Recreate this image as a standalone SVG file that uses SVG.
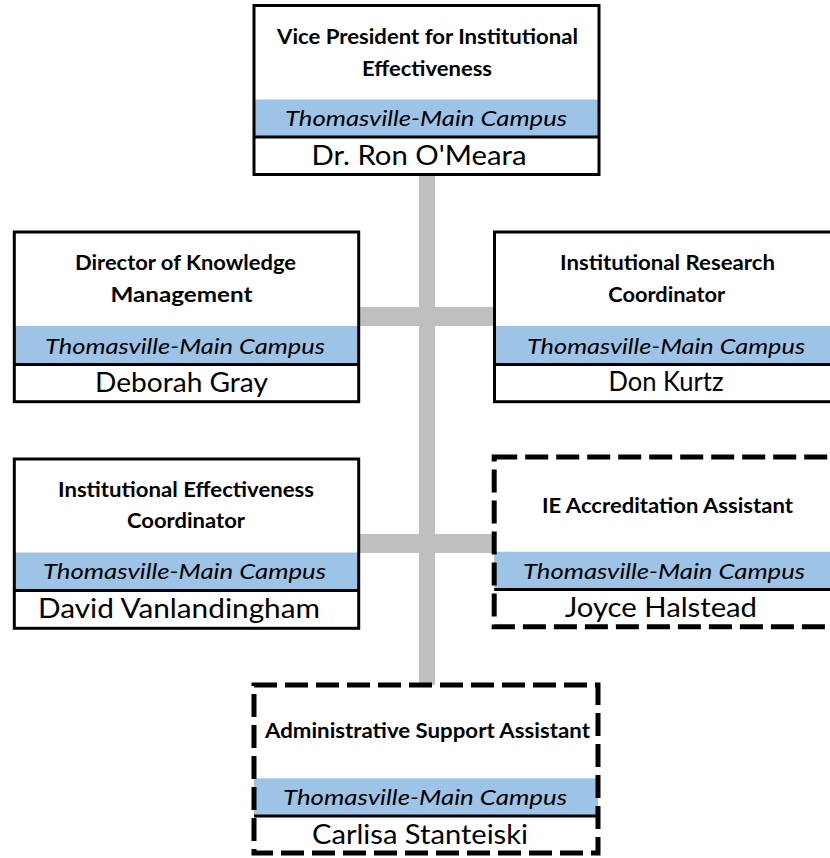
<svg xmlns="http://www.w3.org/2000/svg" width="830" height="858" viewBox="0 0 830 858">
<style>
.bg{fill:#ffffff}
.box{fill:none;stroke:#000;stroke-width:3}
.dash{fill:none;stroke:#000;stroke-width:5;stroke-dasharray:23 8}
.band{fill:#9DC3E6}
.sep{stroke:#000;stroke-width:3}
.conn{fill:#BFBFBF}
text{font-family:Lato,"Open Sans","Liberation Sans",sans-serif;text-anchor:middle;fill:#000}
.t{font-weight:bold;font-size:20px}
.c{font-style:italic;font-size:22px}
.n{font-size:26px}
</style>
<rect x="0" y="0" width="830" height="858" fill="#fff"/>
<g id="connectors">
<rect class="conn" x="419" y="175" width="16" height="510"/>
<rect class="conn" x="359" y="307" width="135" height="19"/>
<rect class="conn" x="359" y="534" width="135" height="19"/>
</g>
<g id="vp">
<rect class="bg" x="254" y="5.5" width="345" height="169"/>
<rect class="band" x="254" y="99.5" width="345" height="37"/>
<line class="sep" x1="254" y1="137" x2="599" y2="137"/>
<rect class="box" x="254" y="5.5" width="345" height="169"/>
<text class="t" x="427.5" y="43.5" textLength="301" lengthAdjust="spacingAndGlyphs">Vice President for Institutional</text>
<text class="t" x="427" y="75.5" textLength="130" lengthAdjust="spacingAndGlyphs">Effectiveness</text>
<text class="c" x="426" y="126" textLength="282" lengthAdjust="spacingAndGlyphs">Thomasville-Main Campus</text>
<text class="n" x="419" y="165" textLength="215" lengthAdjust="spacingAndGlyphs">Dr. Ron O'Meara</text>
</g>
<g id="director">
<rect class="bg" x="14.3" y="232" width="344.4" height="169.7"/>
<rect class="band" x="14.3" y="326" width="344.4" height="38"/>
<line class="sep" x1="14.3" y1="364.5" x2="358.7" y2="364.5"/>
<rect class="box" x="14.3" y="232" width="344.4" height="169.7"/>
<text class="t" x="185.5" y="270" textLength="221" lengthAdjust="spacingAndGlyphs">Director of Knowledge</text>
<text class="t" x="181.5" y="302" textLength="142" lengthAdjust="spacingAndGlyphs">Management</text>
<text class="c" x="185" y="354" textLength="280" lengthAdjust="spacingAndGlyphs">Thomasville-Main Campus</text>
<text class="n" x="181.5" y="392" textLength="173" lengthAdjust="spacingAndGlyphs">Deborah Gray</text>
</g>
<g id="research">
<rect class="bg" x="494.5" y="232" width="344" height="169.7"/>
<rect class="band" x="494.5" y="326" width="344" height="38"/>
<line class="sep" x1="494.5" y1="364.5" x2="838" y2="364.5"/>
<rect class="box" x="494.5" y="232" width="344" height="169.7"/>
<text class="t" x="667.5" y="270" textLength="215" lengthAdjust="spacingAndGlyphs">Institutional Research</text>
<text class="t" x="666.7" y="302" textLength="117" lengthAdjust="spacingAndGlyphs">Coordinator</text>
<text class="c" x="666" y="354" textLength="278" lengthAdjust="spacingAndGlyphs">Thomasville-Main Campus</text>
<text class="n" x="666" y="391" textLength="115" lengthAdjust="spacingAndGlyphs">Don Kurtz</text>
</g>
<g id="iecoord">
<rect class="bg" x="14.3" y="459" width="344.4" height="169.3"/>
<rect class="band" x="14.3" y="552.5" width="344.4" height="38"/>
<line class="sep" x1="14.3" y1="590.5" x2="358.7" y2="590.5"/>
<rect class="box" x="14.3" y="459" width="344.4" height="169.3"/>
<text class="t" x="186" y="497" textLength="256" lengthAdjust="spacingAndGlyphs">Institutional Effectiveness</text>
<text class="t" x="186" y="527.5" textLength="118" lengthAdjust="spacingAndGlyphs">Coordinator</text>
<text class="c" x="184.5" y="578.5" textLength="283" lengthAdjust="spacingAndGlyphs">Thomasville-Main Campus</text>
<text class="n" x="179" y="617.5" textLength="282" lengthAdjust="spacingAndGlyphs">David Vanlandingham</text>
</g>
<g id="ieaccred">
<rect class="bg" x="494.2" y="457" width="344" height="169.7"/>
<rect class="band" x="494.2" y="551.7" width="344" height="37.5"/>
<line class="sep" x1="494.2" y1="589.5" x2="838" y2="589.5"/>
<rect class="dash" x="494.2" y="457" width="344" height="169.7"/>
<text class="t" x="667.5" y="512.7" textLength="251" lengthAdjust="spacingAndGlyphs">IE Accreditation Assistant</text>
<text class="c" x="664" y="578.5" textLength="282" lengthAdjust="spacingAndGlyphs">Thomasville-Main Campus</text>
<text class="n" x="661" y="617" textLength="192" lengthAdjust="spacingAndGlyphs">Joyce Halstead</text>
</g>
<g id="admin">
<rect class="bg" x="254" y="685" width="344" height="168"/>
<rect class="band" x="254" y="778.3" width="344" height="37.5"/>
<line class="sep" x1="254" y1="816" x2="598" y2="816"/>
<rect class="dash" x="254" y="685" width="344" height="168"/>
<text class="t" x="427.5" y="738" textLength="325" lengthAdjust="spacingAndGlyphs">Administrative Support Assistant</text>
<text class="c" x="425" y="805" textLength="284" lengthAdjust="spacingAndGlyphs">Thomasville-Main Campus</text>
<text class="n" x="420" y="843.5" textLength="216" lengthAdjust="spacingAndGlyphs">Carlisa Stanteiski</text>
</g>
</svg>
